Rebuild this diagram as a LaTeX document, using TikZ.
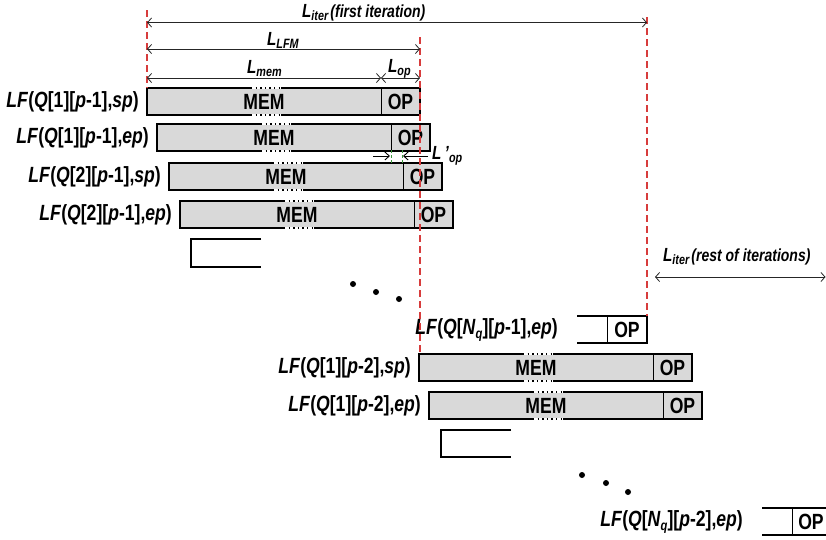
\documentclass[tikz,border=0pt]{standalone}
\usepackage{fontspec}
\setmainfont{Liberation Sans}[FakeStretch=0.8]
\usetikzlibrary{arrows.meta}
\definecolor{redline}{RGB}{215,60,60}
\definecolor{boxfill}{RGB}{217,217,217}
\definecolor{tickgreen}{RGB}{60,150,60}
\newcommand\LFQ[3]{\textit{LF}(\textit{Q}[#1][\textit{p}-#2],\textit{#3})}
\newcommand\Ldim[1]{{\fontsize{19}{19}\selectfont\textit{L}}\raisebox{-3.5pt}{\fontsize{13.5}{13.5}\selectfont\textit{#1}}}
\newcommand\lfrow[4]{%
  \node[lfbox] (#1) at (#2,#3) {};
  \draw[line width=0.9pt] ([xshift=-39pt]#1.north east) -- ([xshift=-39pt]#1.south east);
  \node[boxtxt] (#1op) at ([xshift=-19.5pt]#1.east) {OP};
  \node[boxtxt] (#1mem) at ([xshift=117pt]#1.west) {MEM};
  \draw[white, line width=2.6pt] ([xshift=104pt]#1.north west) -- ([xshift=134pt]#1.north west);
  \draw[dotseg] ([xshift=104pt]#1.north west) -- ([xshift=134pt]#1.north west);
  \draw[white, line width=2.6pt] ([xshift=104pt]#1.south west) -- ([xshift=134pt]#1.south west);
  \draw[dotseg] ([xshift=104pt]#1.south west) -- ([xshift=134pt]#1.south west);
  \node[lbl] (#1lbl) at ([xshift=-8pt]#1.west) {#4};
}
\begin{document}
\begin{tikzpicture}[x=1pt,y=-1pt, font=\bfseries,
  lfbox/.style={draw, line width=1.8pt, fill=boxfill, minimum width=273pt, minimum height=27pt, inner sep=0pt, outer sep=0pt, anchor=north west},
  openbox/.style={minimum height=27pt, inner sep=0pt, outer sep=0pt, anchor=north west},
  boxtxt/.style={font=\bfseries\fontsize{22}{22}\selectfont, inner sep=0pt},
  lbl/.style={font=\bfseries\fontsize{22}{22}\selectfont, inner sep=0pt, anchor=east},
  dimlbl/.style={font=\bfseries, inner sep=0pt, anchor=base west},
  dotseg/.style={line width=1.4pt, dash pattern=on 1.4pt off 3.2pt},
  thickline/.style={line width=1.8pt},
  dim/.style={draw=black!85, line width=0.8pt, {Straight Barb[length=4pt,width=9pt]}-{Straight Barb[length=4pt,width=9pt]}},
  smallarrow/.style={draw=black, line width=0.9pt, -{Straight Barb[length=4.5pt,width=8pt]}},
  redd/.style={draw=redline, line width=1.3pt, dash pattern=on 7pt off 4pt},
  greend/.style={draw=tickgreen, line width=1pt, dash pattern=on 3pt off 2pt},
  dot/.style={fill=black}
]
\fill[white] (0,0) rectangle (826,539);
\useasboundingbox (0,0) rectangle (826,539);

% rows of first iteration
\lfrow{b1}{147}{88}{\LFQ{1}{1}{sp}}
\lfrow{b2}{157}{124}{\LFQ{1}{1}{ep}}
\lfrow{b3}{169}{163}{\LFQ{2}{1}{sp}}
\lfrow{b4}{180}{201}{\LFQ{2}{1}{ep}}
\draw[thickline] (261,239) -- (191,239) -- (191,267) -- (261,267);

\fill[dot] (353,284) circle (3pt);
\fill[dot] (376,292) circle (3pt);
\fill[dot] (399,299) circle (3pt);

% last row of first iteration (open box)
\node[openbox, minimum width=70pt] (nq1) at (577,316) {};
\draw[thickline] (nq1.north west) -- (nq1.north east) -- (nq1.south east) -- (nq1.south west);
\draw[line width=0.9pt] ([xshift=-40pt]nq1.north east) -- ([xshift=-40pt]nq1.south east);
\node[boxtxt] (nq1op) at ([xshift=-20pt]nq1.east) {OP};
\node[lbl] (nq1lbl) at ([xshift=-19pt]nq1.west) {\textit{LF}(\textit{Q}[\textit{N}\raisebox{-4pt}{\fontsize{14}{14}\selectfont\textit{q}}][\textit{p}-1],\textit{ep})};

% rows of next iteration
\lfrow{b5}{419}{354}{\LFQ{1}{2}{sp}}
\lfrow{b6}{429}{392}{\LFQ{1}{2}{ep}}
\draw[thickline] (511,430) -- (441,430) -- (441,457) -- (511,457);

\fill[dot] (582,475) circle (3pt);
\fill[dot] (606,483) circle (3pt);
\fill[dot] (628,492) circle (3pt);

\node[openbox, minimum width=68pt] (nq2) at (762,508) {};
\draw[thickline] (nq2.north west) -- ++(64,0);
\draw[thickline] (nq2.south west) -- ++(64,0);
\draw[line width=0.9pt] ([xshift=-38pt]nq2.north east) -- ([xshift=-38pt]nq2.south east);
\node[boxtxt] (nq2op) at ([xshift=-19pt]nq2.east) {OP};
\node[lbl] (nq2lbl) at ([xshift=-19pt]nq2.west) {\textit{LF}(\textit{Q}[\textit{N}\raisebox{-4pt}{\fontsize{14}{14}\selectfont\textit{q}}][\textit{p}-2],\textit{ep})};

% red dashed reference lines
\coordinate (r1t) at (147,10);
\coordinate (r2t) at (420,37);
\coordinate (r2b) at (420,352);
\coordinate (r3t) at (647,17);
\draw[redd] (r1t) -- (b1.north west);
\draw[redd] (r2t) -- (r2b);
\draw[redd] (r3t) -- (nq1.north east);

% dimension arrows
\coordinate (a1l) at (147,22.5); \coordinate (a1r) at (647,22.5);
\draw[dim] (a1l) -- (a1r);
\node[dimlbl] (liter) at (302,17) {\Ldim{iter}\,{\fontsize{17.5}{17.5}\selectfont\textit{(first iteration)}}};

\coordinate (a2l) at (147,49); \coordinate (a2r) at (420,49);
\draw[dim] (a2l) -- (a2r);
\node[dimlbl] (llfm) at (267,45) {\Ldim{LFM}};

\coordinate (a3l) at (147,78); \coordinate (a3m) at (381,78); \coordinate (a3r) at (420,78);
\draw[dim] (a3l) -- (a3m);
\draw[dim] (a3m) -- (a3r);
\node[dimlbl] (lmem) at (247,73) {\Ldim{mem}};
\node[dimlbl] (lop) at (388,72) {\Ldim{op}};

% L'op
\coordinate (p1) at (373,156); \coordinate (p2) at (390,156);
\coordinate (p3) at (428,156); \coordinate (p4) at (403,156);
\draw[smallarrow] (p1) -- (p2);
\draw[smallarrow] (p3) -- (p4);
\coordinate (g1t) at (391,150); \coordinate (g1b) at (391,163);
\coordinate (g2t) at (402,150); \coordinate (g2b) at (402,163);
\draw[greend] (g1t) -- (g1b);
\draw[greend] (g2t) -- (g2b);
\node[dimlbl] (lpop) at (432,159) {{\fontsize{19}{19}\selectfont\textit{L\,'}}\raisebox{-3.5pt}{\fontsize{13.5}{13.5}\selectfont\textit{op}}};

% rest of iterations
\coordinate (a4l) at (655,277); \coordinate (a4r) at (825.5,277);
\draw[dim] (a4l) -- (a4r);
\node[dimlbl] (lrest) at (663,261) {\Ldim{iter}\,{\fontsize{17.5}{17.5}\selectfont\textit{(rest of iterations)}}};
\end{tikzpicture}
\end{document}
